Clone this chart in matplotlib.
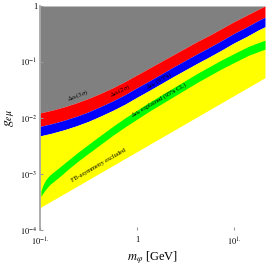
import numpy as np
import matplotlib
matplotlib.use('Agg')
import matplotlib.pyplot as plt

plt.rcParams['font.family'] = ['Liberation Serif', 'DejaVu Serif']
plt.rcParams['mathtext.fontset'] = 'stix'

# values read as log10 exponents (mass in GeV, coupling g_emu)
log_m = [-1.0, -0.875, -0.75, -0.625, -0.5, -0.375, -0.25, -0.125, 0.0, 0.125,
         0.25, 0.375, 0.5, 0.625, 0.75, 0.875, 1.0, 1.125, 1.25, 1.32]
log_ae3 = [-1.91, -1.86, -1.80, -1.73, -1.65, -1.56, -1.46, -1.35, -1.23, -1.11,
           -0.99, -0.87, -0.75, -0.63, -0.52, -0.40, -0.28, -0.17, -0.06, 0.0]
log_ae2 = [-2.15, -2.10, -2.04, -1.97, -1.89, -1.795, -1.695, -1.585, -1.46, -1.34,
           -1.215, -1.09, -0.97, -0.85, -0.735, -0.615, -0.49, -0.38, -0.26, -0.20]
log_amu = [-2.32, -2.27, -2.21, -2.14, -2.06, -1.965, -1.865, -1.755, -1.63, -1.51,
           -1.385, -1.26, -1.14, -1.02, -0.905, -0.785, -0.66, -0.55, -0.43, -0.37]
log_fb = [-3.60, -3.475, -3.35, -3.225, -3.10, -2.975, -2.85, -2.725, -2.60, -2.475,
          -2.35, -2.225, -2.10, -1.975, -1.85, -1.725, -1.60, -1.475, -1.35, -1.28]

# green band (a_mu explained, 95% CL)
log_mg = [-0.99, -0.97, -0.94, -0.9, -0.8, -0.7, -0.6, -0.5, -0.375, -0.25, -0.125,
          0.0, 0.125, 0.25, 0.375, 0.5, 0.625, 0.75, 0.875, 1.0, 1.15, 1.32]
log_green_hi = [-3.30, -3.20, -3.10, -3.02, -2.88, -2.74, -2.60, -2.47, -2.31, -2.15, -2.00,
                -1.86, -1.72, -1.59, -1.46, -1.33, -1.20, -1.08, -0.96, -0.85, -0.72, -0.61]
log_green_lo = [-3.40, -3.34, -3.27, -3.19, -3.05, -2.90, -2.76, -2.63, -2.47, -2.31, -2.16,
                -2.02, -1.88, -1.75, -1.62, -1.49, -1.36, -1.24, -1.12, -1.01, -0.88, -0.77]

yticks = [1e-4, 1e-3, 1e-2, 1e-1, 1]
ylabels = [r'$10^{-4}$', r'$10^{-3}$', r'$10^{-2}$', r'$10^{-1}$', '1']
xticks = [0.1, 1, 10]
xlabels = [r'$10^{-1.}$', '1', r'$10^{1.}$']

m = 10.0 ** np.array(log_m)
mg = 10.0 ** np.array(log_mg)

fig = plt.figure(figsize=(2.66, 2.66), dpi=100)
ax = fig.add_axes([40/266, 36/266, 225/266, 224/266])

ax.fill_between(m, 10.0 ** np.array(log_ae3), 1.0, color='#808080', lw=0)
ax.fill_between(m, 10.0 ** np.array(log_ae2), 10.0 ** np.array(log_ae3), color='#ff0000', lw=0)
ax.fill_between(m, 10.0 ** np.array(log_amu), 10.0 ** np.array(log_ae2), color='#0000ff', lw=0)
ax.fill_between(m, 10.0 ** np.array(log_fb), 10.0 ** np.array(log_amu), color='#ffff00', lw=0)
ax.fill_between(mg, 10.0 ** np.array(log_green_lo), 10.0 ** np.array(log_green_hi),
                color='#00ff00', lw=0)

ax.set_xscale('log')
ax.set_yscale('log')
ax.set_xlim(0.1, 20.9)
ax.set_ylim(1e-4, 1)

ax.set_yticks(yticks)
ax.set_yticklabels(ylabels)
ax.set_xticks(xticks)
ax.set_xticklabels(xlabels)
ax.minorticks_off()
ax.tick_params(axis='both', labelsize=6, direction='in', length=2, color='#999999', pad=2)
ax.tick_params(axis='x', pad=4)

for s in ['top', 'right', 'bottom']:
    ax.spines[s].set_visible(False)
ax.spines['left'].set_color('#a0a0a0')
ax.spines['left'].set_linewidth(1.2)

ax.set_ylabel(r'$g_{e\mu}$', fontsize=10, labelpad=2)
ax.set_xlabel(r'$m_\varphi$ [GeV]', fontsize=9, labelpad=1)

fs = 4.5
ax.text(0.247, 0.0245, r'$\Delta a_e(3\sigma)$', fontsize=fs, rotation=20, ha='center', va='center')
ax.text(0.668, 0.030, r'$\Delta a_e(2\sigma)$', fontsize=fs, rotation=25, ha='center', va='center')
ax.text(1.7, 0.046, r'$\Delta a_\mu$ (95%)', fontsize=fs, rotation=29, ha='center', va='center')
ax.text(1.7, 0.0205, r'$\Delta a_\mu$ explained (95% CL)', fontsize=fs, rotation=30, ha='center', va='center')
ax.text(0.40, 0.0014, 'FB-asymmetry excluded', fontsize=fs, rotation=30, ha='center', va='center')

plt.savefig('out.png', dpi=100)
